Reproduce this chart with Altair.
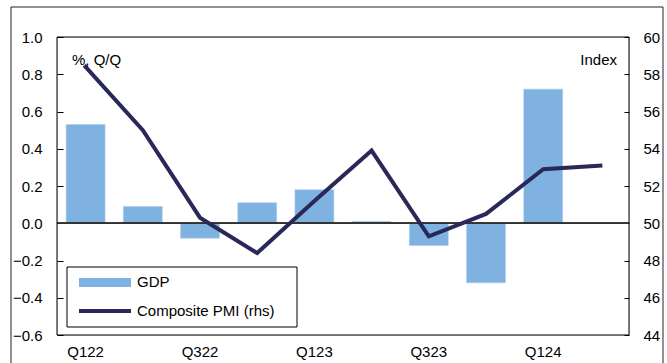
import altair as alt
import pandas as pd

quarters = ["Q122", "Q222", "Q322", "Q422", "Q123", "Q223", "Q323", "Q423", "Q124", "Q224"]
gdp = [0.53, 0.09, -0.08, 0.11, 0.18, 0.01, -0.12, -0.32, 0.72, None]
pmi = [58.4, 55.0, 50.3, 48.4, 51.2, 53.9, 49.3, 50.5, 52.9, 53.1]
x_labels = ["Q122", "Q322", "Q123", "Q323", "Q124"]
left_ticks = [-0.6, -0.4, -0.2, 0.0, 0.2, 0.4, 0.6, 0.8, 1.0]
right_ticks = [44, 46, 48, 50, 52, 54, 56, 58, 60]

df = pd.DataFrame({"q": quarters, "gdp": gdp, "pmi": pmi})
zero_df = pd.DataFrame({"q": quarters, "z": [0.0] * len(quarters)})

FONT = "Liberation Sans"
BAR = "#7FB2E1"
LINE = "#2A2859"
W, H = 572, 298

xenc = alt.X("q:N", sort=quarters,
             scale=alt.Scale(domain=quarters, paddingInner=0.32, paddingOuter=0.16),
             axis=alt.Axis(values=x_labels, title=None, labelAngle=0, ticks=False,
                           domain=False, labelPadding=9, labelFontSize=15,
                           labelFont=FONT, labelColor="black"))

left_axis = alt.Axis(values=left_ticks, format=".1f", title=None, orient="left",
                     grid=False, domain=False, tickSize=6, offset=-6,
                     tickColor="black", labelPadding=15, labelFontSize=15,
                     labelFont=FONT, labelColor="black")
left_scale = alt.Scale(domain=[-0.6, 1.0], nice=False, zero=False)

base = alt.Chart(df)

bars = base.mark_bar(color=BAR, stroke="#A9CBEC", strokeWidth=0.6).encode(
    x=xenc,
    y=alt.Y("gdp:Q", scale=left_scale, axis=left_axis),
)

zero = alt.Chart(zero_df).mark_rule(color="#333333", strokeWidth=1).encode(
    y=alt.Y("z:Q", scale=left_scale, axis=left_axis),
)

line = base.mark_line(color=LINE, strokeWidth=4, strokeCap="square", strokeJoin="miter").encode(
    x=alt.X("q:N", sort=quarters, bandPosition=0.5),
    y=alt.Y("pmi:Q", scale=alt.Scale(domain=[44, 60], nice=False, zero=False),
            axis=alt.Axis(values=right_ticks, format="d", title=None, orient="right",
                          grid=False, domain=False, tickSize=5, offset=-5,
                          tickColor="black", labelPadding=14, labelFontSize=15,
                          labelFont=FONT, labelColor="black")),
)

left_unit = alt.Chart(pd.DataFrame({"t": ["%, Q/Q"]})).mark_text(
    font=FONT, fontSize=15, align="left", baseline="alphabetic", color="black"
).encode(x=alt.value(15), y=alt.value(28), text="t:N")

right_unit = alt.Chart(pd.DataFrame({"t": ["Index"]})).mark_text(
    font=FONT, fontSize=15, align="right", baseline="alphabetic", color="black"
).encode(x=alt.value(560), y=alt.value(28), text="t:N")

legend_box = alt.Chart(pd.DataFrame({"a": [0]})).mark_rect(
    fill="white", stroke="black", strokeWidth=1
).encode(x=alt.value(10), x2=alt.value(240), y=alt.value(230), y2=alt.value(290))

legend_swatch = alt.Chart(pd.DataFrame({"a": [0]})).mark_rect(color=BAR).encode(
    x=alt.value(22), x2=alt.value(74), y=alt.value(241), y2=alt.value(250))

legend_line = alt.Chart(pd.DataFrame({"a": [0]})).mark_rule(color=LINE, strokeWidth=4).encode(
    x=alt.value(22), x2=alt.value(74), y=alt.value(274))

legend_gdp = alt.Chart(pd.DataFrame({"t": ["GDP"]})).mark_text(
    font=FONT, fontSize=15, align="left", baseline="middle", color="black"
).encode(x=alt.value(80), y=alt.value(245), text="t:N")

legend_pmi = alt.Chart(pd.DataFrame({"t": ["Composite PMI (rhs)"]})).mark_text(
    font=FONT, fontSize=15, align="left", baseline="middle", color="black"
).encode(x=alt.value(80), y=alt.value(274), text="t:N")

frame = alt.Chart(pd.DataFrame({"a": [0]})).mark_rect(
    fillOpacity=0, stroke="#222222", strokeWidth=1
).encode(x=alt.value(-46), x2=alt.value(606), y=alt.value(-30), y2=alt.value(345))

plot_box = alt.Chart(pd.DataFrame({"a": [0]})).mark_rect(
    fillOpacity=0, stroke="black", strokeWidth=1
).encode(x=alt.value(0), x2=alt.value(W), y=alt.value(0), y2=alt.value(H))

left_layer = alt.layer(bars, zero)

chart = alt.layer(
    frame, left_layer, line, plot_box, left_unit, right_unit,
    legend_box, legend_swatch, legend_line, legend_gdp, legend_pmi
).resolve_scale(y="independent").properties(
    width=W, height=H,
    autosize=alt.AutoSizeParams(type="none"),
    padding={"left": 57, "top": 37, "right": 38, "bottom": 28},
).configure_view(strokeWidth=0).configure(background="white")

chart.save("out.html", embed_options={"renderer": "svg", "actions": False})
